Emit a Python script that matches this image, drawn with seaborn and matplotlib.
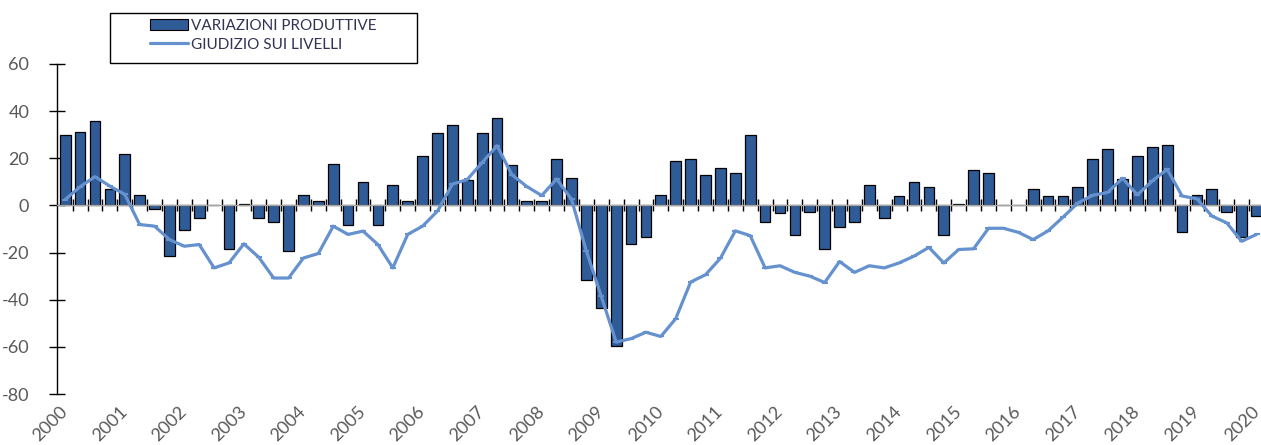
import numpy as np
import pandas as pd
import matplotlib
matplotlib.use('Agg')
import matplotlib.pyplot as plt
import seaborn as sns
from matplotlib.patches import Patch, Rectangle
from matplotlib.lines import Line2D

# Quarterly data, 2000Q1 - 2020Q1
var_prod = [30, 31, 36, 7, 22, 4.5, -1.5, -21.5, -10.5, -5.5,
            0, -18.5, 0.7, -5.5, -7, -19.5, 4.5, 1.7, 17.7, -8.5,
            10, -8.5, 8.7, 1.7, 20.9, 30.8, 34, 10.6, 30.8, 37.2,
            17, 1.7, 1.7, 19.9, 11.6, -31.5, -43.5, -59.5, -16.3, -13.5,
            4.5, 18.7, 19.9, 13, 15.9, 13.9, 30, -7, -3.3, -12.5,
            -2.7, -18.4, -9.2, -7.1, 8.8, -5.4, 4, 9.9, 7.8, -12.5,
            0.7, 15, 13.9, 0, 0, 6.8, 4, 4, 7.8, 19.9,
            24.1, 11, 20.9, 24.8, 25.8, -11.3, 4.5, 6.8, -2.7, -13.5,
            -4.5]
giudizio = [2.5, 7.9, 12.2, 8.2, 4.7, -8.1, -8.8, -14.5, -17.3, -16.6,
            -26.5, -24.4, -16.3, -22, -30.8, -30.8, -22.3, -20.4, -8.8, -12.3,
            -10.9, -16.6, -26.5, -12.3, -8.8, -2.4, 9, 11, 18.2, 25.3,
            13, 8, 4.2, 11.2, 2.6, -19.4, -38.6, -58, -56.5, -53.8,
            -55.6, -48, -32.5, -29.4, -22.4, -10.8, -12.8, -26.5, -25.6, -28.4,
            -30, -32.7, -23.8, -28.4, -25.6, -26.5, -24.4, -21.5, -17.8, -24.4,
            -18.7, -18.4, -9.7, -9.7, -11.4, -14.5, -10.8, -5, 1, 4.3,
            5.5, 11.5, 4.5, 10.4, 15.3, 4, 2.8, -4.5, -7.4, -15.2,
            -12.3]
years = [str(y) for y in range(2000, 2021)]

bar_color = '#2F5C97'
line_color = '#6592CF'
grey = '#595959'

sns.set_style('white')
plt.rcParams['font.family'] = ['Lato', 'DejaVu Sans']
plt.rcParams['axes.unicode_minus'] = False

df = pd.DataFrame({'q': range(len(var_prod)), 'var': var_prod, 'giud': giudizio})

fig = plt.figure(figsize=(12.61, 4.45), dpi=100)
ax = fig.add_axes([0.0452, 0.1146, 1 - 0.0452, 0.7416])

sns.barplot(data=df, x='q', y='var', color=bar_color, saturation=1, width=0.72,
            edgecolor='black', linewidth=0.9, ax=ax, zorder=2)
sns.lineplot(data=df, x='q', y='giud', color=line_color, linewidth=2.3,
             marker='_', markersize=5, markeredgewidth=1.5,
             markeredgecolor=line_color, ax=ax, zorder=3)

ax.set_xlim(-0.55, 80.3)
ax.set_ylim(-80, 60)
ax.set_xlabel('')
ax.set_ylabel('')

# y axis
ax.set_yticks(range(-80, 61, 20))
ax.tick_params(axis='y', direction='inout', length=12, width=1, color='black',
               labelsize=13, labelcolor=grey, pad=14, left=True)
ax.spines['left'].set_color('black')
ax.spines['left'].set_linewidth(1)
ax.spines['top'].set_visible(False)
ax.spines['right'].set_visible(False)

# category axis at zero with ticks between quarters
ax.spines['bottom'].set_position(('data', 0))
ax.spines['bottom'].set_color('#A6A6A6')
ax.spines['bottom'].set_linewidth(1)
ax.set_xticks(np.arange(0.5, 80, 1))
ax.tick_params(axis='x', direction='inout', length=8, width=1, color='black',
               labelbottom=False, bottom=True)

# year labels along the bottom
sec = ax.secondary_xaxis(0)
sec.set_xticks(range(0, 81, 4), labels=years)
sec.tick_params(length=0, labelsize=13, labelcolor=grey, pad=11)
for lab in sec.get_xticklabels():
    lab.set_rotation(45)
    lab.set_ha('right')
    lab.set_va('center')
    lab.set_rotation_mode('anchor')
sec.spines['bottom'].set_visible(False)

# legend
handles = [Patch(facecolor=bar_color, edgecolor='black', linewidth=0.8),
           Line2D([0], [0], color=line_color, linewidth=2.3)]
labels = ['VARIAZIONI PRODUTTIVE', 'GIUDIZIO SUI LIVELLI']
leg = fig.legend(handles, labels, loc='upper left',
                 bbox_to_anchor=(150 / 1261, 1 - 19 / 445),
                 bbox_transform=fig.transFigure, frameon=False,
                 fontsize=11, handlelength=2.5, handletextpad=0.2,
                 labelspacing=0.3, borderpad=0, borderaxespad=0)
for t in leg.get_texts():
    t.set_color('#333355')
fig.add_artist(Rectangle((110 / 1261, 1 - 63 / 445), 307 / 1261, 50 / 445,
                         transform=fig.transFigure, fill=False,
                         edgecolor='black', linewidth=1))

fig.savefig('out.png', dpi=100)
